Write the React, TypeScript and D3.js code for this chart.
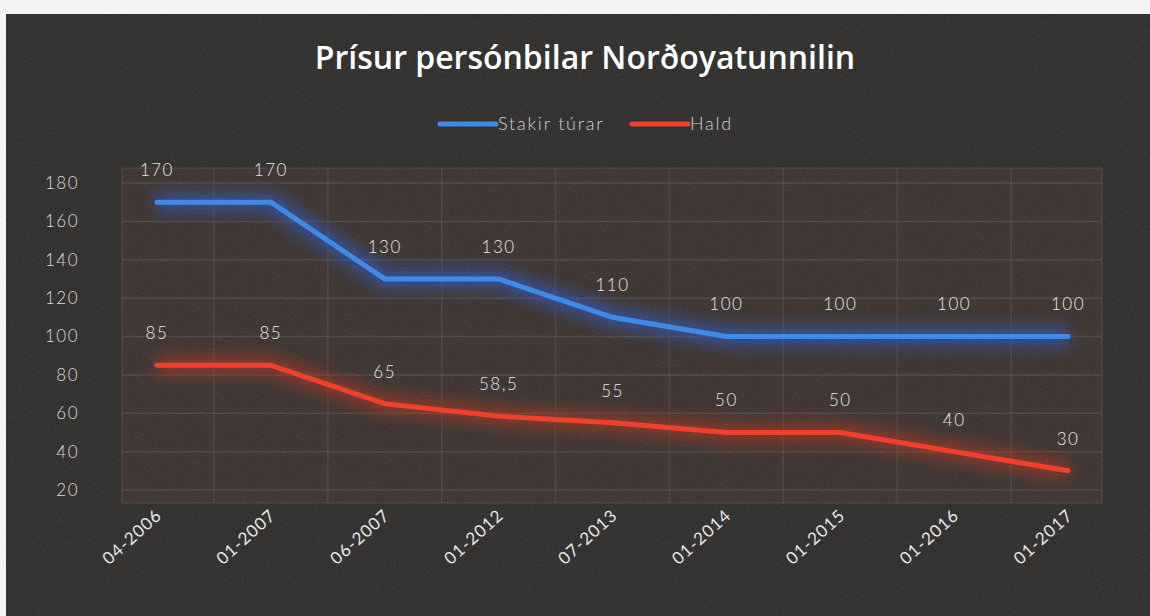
import { useEffect, useRef } from "react";
import * as d3 from "d3";

const WIDTH = 1150;
const HEIGHT = 616;

// data
const categories = ["04-2006", "01-2007", "06-2007", "01-2012", "07-2013", "01-2014", "01-2015", "01-2016", "01-2017"];
const stakirTurar = [170, 170, 130, 130, 110, 100, 100, 100, 100];
const hald = [85, 85, 65, 58.5, 55, 50, 50, 40, 30];
const yTicks = [20, 40, 60, 80, 100, 120, 140, 160, 180];
const seriesNames = ["Stakir túrar", "Hald"];

const FONT = "Lato, 'Open Sans', sans-serif";

export default function App() {
  const ref = useRef<SVGSVGElement>(null);

  useEffect(() => {
    const svg = d3.select(ref.current);
    svg.selectAll("*").remove();

    const x = d3.scaleBand<string>().domain(categories).range([100, 1125]);
    const y = d3.scaleLinear().domain([20, 180]).range([490, 183]);
    const cx = (c: string) => (x(c) as number) + x.bandwidth() / 2;

    const defs = svg.append("defs");
    const glow = defs.append("filter").attr("id", "glow").attr("x", "-10%").attr("y", "-50%").attr("width", "120%").attr("height", "200%");
    glow.append("feGaussianBlur").attr("stdDeviation", 7);

    const grain = defs.append("filter").attr("id", "grain");
    grain.append("feTurbulence").attr("type", "fractalNoise").attr("baseFrequency", 0.9).attr("numOctaves", 2).attr("seed", 3);
    grain.append("feColorMatrix").attr("type", "matrix").attr("values", "0 0 0 0 1  0 0 0 0 1  0 0 0 0 1  0 0 0 0.1 0");

    // paper + dark screen
    svg.append("rect").attr("width", WIDTH).attr("height", HEIGHT).attr("fill", "#f4f4f4");
    svg.append("rect").attr("x", 6).attr("y", 14).attr("width", WIDTH - 6).attr("height", HEIGHT - 14).attr("fill", "#2a2928");

    // plot area
    svg.append("rect").attr("x", 122).attr("y", 168).attr("width", 980).attr("height", 335).attr("fill", "#372e2b");
    svg.append("rect").attr("x", 122).attr("y", 168).attr("width", 980).attr("height", 335)
      .attr("fill", "none").attr("stroke", "rgba(255,255,255,0.12)");

    svg.append("g").selectAll("line").data(yTicks).join("line")
      .attr("x1", 122).attr("x2", 1102)
      .attr("y1", (d) => y(d)).attr("y2", (d) => y(d))
      .attr("stroke", "rgba(255,255,255,0.1)").attr("stroke-width", 1.5);

    svg.append("g").selectAll("line").data(categories.slice(1)).join("line")
      .attr("x1", (d) => x(d) as number).attr("x2", (d) => x(d) as number)
      .attr("y1", 168).attr("y2", 503)
      .attr("stroke", "rgba(255,255,255,0.08)").attr("stroke-width", 1.5);

    // y axis labels
    svg.append("g").selectAll("text").data(yTicks).join("text")
      .attr("x", 79).attr("y", (d) => y(d)).attr("dy", "0.35em")
      .attr("text-anchor", "end").attr("fill", "#d8d8d8")
      .style("font", `300 17px ${FONT}`).style("letter-spacing", "1.5px").text((d) => d);

    // x axis labels
    svg.append("g").selectAll("text").data(categories).join("text")
      .attr("transform", (d) => `translate(${cx(d) + 6},${517}) rotate(-42)`)
      .attr("text-anchor", "end").attr("fill", "#e6e6e6")
      .style("font", `17px ${FONT}`).style("letter-spacing", "1px").text((d) => d);

    const line = d3.line<number>().x((_, i) => cx(categories[i])).y((d) => y(d));

    const series = [
      { values: stakirTurar, color: "#3584e6", halo: "#2a4fae" },
      { values: hald, color: "#f0361d", halo: "#9a2e1e" },
    ];

    series.forEach((s) => {
      svg.append("path").attr("d", line(s.values)).attr("fill", "none")
        .attr("stroke", s.halo).attr("stroke-width", 20).attr("stroke-opacity", 0.7)
        .attr("stroke-linejoin", "round").attr("filter", "url(#glow)");
      svg.append("path").attr("d", line(s.values)).attr("fill", "none")
        .attr("stroke", s.color).attr("stroke-width", 5)
        .attr("stroke-linejoin", "round").attr("stroke-linecap", "round");

      svg.append("g").selectAll("text").data(s.values).join("text")
        .attr("x", (_, i) => cx(categories[i])).attr("y", (d) => y(d) - 32).attr("dy", "0.35em")
        .attr("text-anchor", "middle").attr("fill", "#e6e6e6")
        .style("font", `300 17px ${FONT}`).style("letter-spacing", "1.5px").text((d) => String(d).replace(".", ","));
    });

    // title
    svg.append("text").attr("x", 585).attr("y", 58).attr("dy", "0.35em")
      .attr("text-anchor", "middle").attr("fill", "#ffffff")
      .style("font", `600 32px 'Open Sans', sans-serif`).text("Prísur persónbilar Norðoyatunnilin");

    // legend
    const legend = [
      { name: seriesNames[0], color: "#3584e6", x0: 440 },
      { name: seriesNames[1], color: "#f0361d", x0: 632 },
    ];
    legend.forEach((l) => {
      svg.append("line").attr("x1", l.x0).attr("x2", l.x0 + 56).attr("y1", 124).attr("y2", 124)
        .attr("stroke", l.color).attr("stroke-width", 5).attr("stroke-linecap", "round");
      svg.append("text").attr("x", l.x0 + 58).attr("y", 124).attr("dy", "0.35em")
        .attr("fill", "#cfcfcf").style("font", `300 18px ${FONT}`).style("letter-spacing", "1.8px").text(l.name);
    });

    // film grain
    svg.append("rect").attr("x", 6).attr("y", 14).attr("width", WIDTH - 6).attr("height", HEIGHT - 14)
      .attr("filter", "url(#grain)").attr("pointer-events", "none");
  }, []);

  return (
    <svg
      ref={ref}
      width={WIDTH}
      height={HEIGHT}
      style={{ position: "fixed", left: 0, top: 0, display: "block" }}
    />
  );
}
